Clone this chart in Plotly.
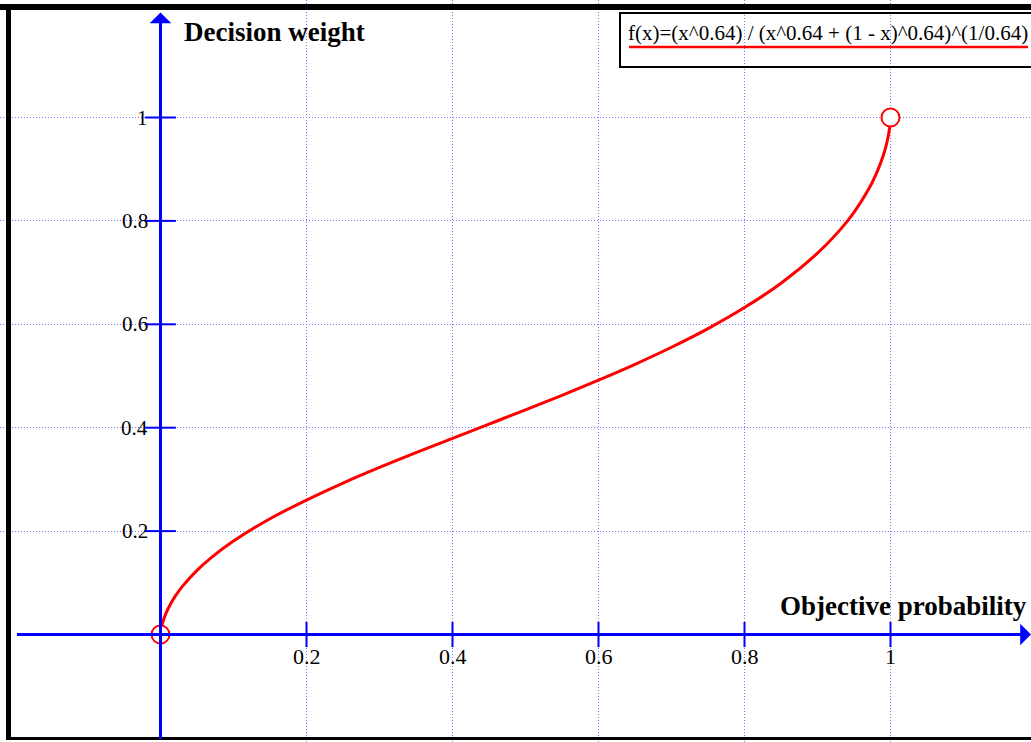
import plotly.graph_objects as go

# Curve values (objective probability -> decision weight)
prob = [0, 0.001, 0.005, 0.01, 0.02, 0.03, 0.05, 0.07, 0.1, 0.15, 0.2, 0.25, 0.3, 0.35, 0.4,
        0.45, 0.5, 0.55, 0.6, 0.65, 0.7, 0.75, 0.8, 0.85, 0.9, 0.93, 0.95, 0.97, 0.98,
        0.99, 0.995, 0.999, 1]
weight = [0, 0.0118, 0.0321, 0.0489, 0.0737, 0.0931, 0.1241, 0.1492, 0.1807, 0.2239, 0.260,
          0.2929, 0.3231, 0.3517, 0.3795, 0.4069, 0.4345, 0.4627, 0.4919, 0.5226, 0.5556,
          0.5917, 0.6324, 0.6794, 0.7375, 0.7812, 0.8167, 0.8612, 0.8895, 0.9260, 0.9511,
          0.9819, 1]
end_x = [0, 1]
end_y = [0, 1]
tick_vals = [0.2, 0.4, 0.6, 0.8, 1]
tick_text = ["0.2", "0.4", "0.6", "0.8", "1"]
x_title = "Objective probability"
y_title = "Decision weight"
legend_text = "f(x)=(x^0.64) / (x^0.64 + (1 - x)^0.64)^(1/0.64)"

W, H = 1031, 742
X0, X1 = -160.5 / 730, (W - 160.5) / 730
Y0, Y1 = (634.5 - H) / 517, 634.5 / 517
BLUE = "#0000ff"
FONT = "Liberation Serif"

fig = go.Figure()

# tick marks on the axes
fig.add_trace(go.Scatter(x=tick_vals, y=[0] * len(tick_vals), mode="markers",
                         marker=dict(symbol="line-ns-open", size=18, color=BLUE,
                                     line=dict(color=BLUE, width=2)),
                         hoverinfo="skip", showlegend=False))
fig.add_trace(go.Scatter(x=[0] * len(tick_vals), y=tick_vals, mode="markers",
                         marker=dict(symbol="line-ew-open", size=22, color=BLUE,
                                     line=dict(color=BLUE, width=2)),
                         hoverinfo="skip", showlegend=False))

# curve
fig.add_trace(go.Scatter(x=prob, y=weight, mode="lines",
                         line=dict(color="#ff0000", width=3, shape="spline"),
                         showlegend=False))
# open end points
fig.add_trace(go.Scatter(x=end_x, y=end_y, mode="markers",
                         marker=dict(symbol="circle", size=18, color="white",
                                     line=dict(color="#ff0000", width=2)),
                         showlegend=False))

annotations = []
# axes with arrows
annotations.append(dict(x=X1, y=0, ax=(15 - 160) / 730, ay=0, xref="x", yref="y",
                        axref="x", ayref="y", text="", showarrow=True,
                        arrowhead=1, arrowsize=1.2, arrowwidth=3, arrowcolor=BLUE))
annotations.append(dict(x=0, y=(634 - 12) / 517, ax=0, ay=(634 - 740) / 517, xref="x",
                        yref="y", axref="x", ayref="y", text="", showarrow=True,
                        arrowhead=1, arrowsize=1.2, arrowwidth=3, arrowcolor=BLUE))
# tick labels
for v, t in zip(tick_vals, tick_text):
    annotations.append(dict(x=v, y=0, xref="x", yref="y", text=t, showarrow=False,
                            xanchor="center", yanchor="top", yshift=-7,
                            font=dict(family=FONT, size=22, color="black")))
    annotations.append(dict(x=0, y=v, xref="x", yref="y", text=t, showarrow=False,
                            xanchor="right", yanchor="middle", xshift=-11,
                            font=dict(family=FONT, size=21, color="black")))
# axis titles
annotations.append(dict(x=182 / W, y=1 - 32 / H, xref="paper", yref="paper", text=f"<b>{y_title}</b>",
                        showarrow=False, xanchor="left", yanchor="middle",
                        font=dict(family=FONT, size=27, color="black")))
annotations.append(dict(x=1029 / W, y=1 - 606 / H, xref="paper", yref="paper", text=f"<b>{x_title}</b>",
                        showarrow=False, xanchor="right", yanchor="middle",
                        font=dict(family=FONT, size=27, color="black")))
# legend text
annotations.append(dict(x=626 / W, y=1 - 33 / H, xref="paper", yref="paper", text=legend_text,
                        showarrow=False, xanchor="left", yanchor="middle",
                        font=dict(family=FONT, size=21, color="black")))

shapes = [
    # legend box and red sample line
    dict(type="rect", xref="paper", yref="paper", x0=620 / W, x1=1.02, y0=1 - 67 / H, y1=1 - 13 / H,
         line=dict(color="black", width=2), fillcolor="rgba(0,0,0,0)"),
    dict(type="line", xref="paper", yref="paper", x0=629 / W, x1=1028 / W, y0=1 - 47 / H, y1=1 - 47 / H,
         line=dict(color="#ff0000", width=2.5)),
    # black frame
    dict(type="rect", xref="paper", yref="paper", x0=0, x1=1, y0=1 - 10 / H, y1=1 - 4 / H,
         line=dict(width=0), fillcolor="black"),
    dict(type="rect", xref="paper", yref="paper", x0=6 / W, x1=11 / W, y0=1 - 740 / H, y1=1 - 4 / H,
         line=dict(width=0), fillcolor="black"),
    dict(type="rect", xref="paper", yref="paper", x0=6 / W, x1=1, y0=1 - 740 / H, y1=1 - 737 / H,
         line=dict(width=0), fillcolor="black"),
]

fig.update_layout(
    width=W, height=H, margin=dict(l=0, r=0, t=0, b=0),
    paper_bgcolor="white", plot_bgcolor="white",
    xaxis=dict(range=[X0, X1], tickvals=tick_vals, showticklabels=False, ticks="",
               showgrid=True, gridcolor="#7a7aff", griddash="1px,2px", gridwidth=1,
               zeroline=False, showline=False, fixedrange=True),
    yaxis=dict(range=[Y0, Y1], tickvals=tick_vals, showticklabels=False, ticks="",
               showgrid=True, gridcolor="#7a7aff", griddash="1px,2px", gridwidth=1,
               zeroline=False, showline=False, fixedrange=True),
    annotations=annotations, shapes=shapes, showlegend=False,
)

fig.write_html("out.html", config={"displayModeBar": False},
               post_script="document.body.style.margin='0';")
